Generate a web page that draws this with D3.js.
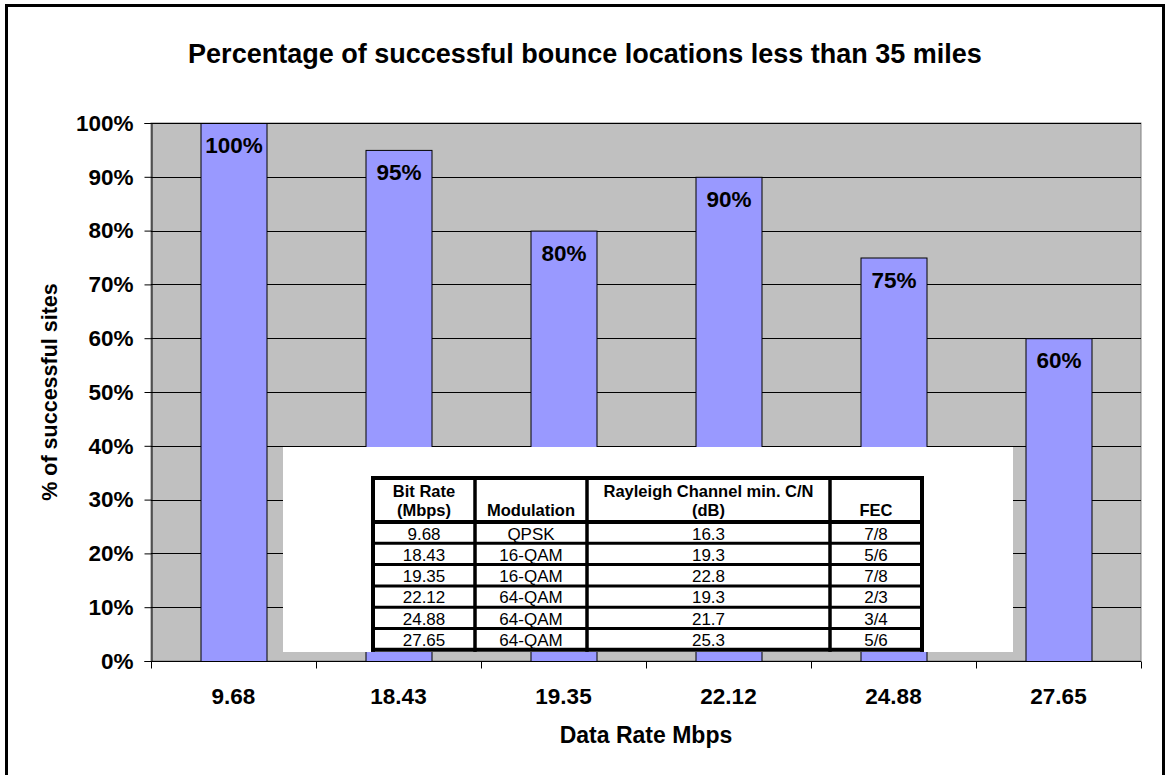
<!DOCTYPE html>
<html>
<head>
<meta charset="utf-8">
<script src="https://cdn.jsdelivr.net/npm/d3@7"></script>
<style>
  html, body { margin: 0; padding: 0; background: #fff; }
  svg { display: block; font-family: Arial, "Liberation Sans", sans-serif; }
</style>
</head>
<body>
<svg id="chart" width="1165" height="775"></svg>
<script>
// Data rates (Mbps) on the category axis and share of successful sites
const rates = ["9.68", "18.43", "19.35", "22.12", "24.88", "27.65"];
const successPct = [100, 95, 80, 90, 75, 60];
const yTicks = [0, 10, 20, 30, 40, 50, 60, 70, 80, 90, 100];

// Inset table of link parameters
const tableHeader = [["Bit Rate", "(Mbps)"], ["", "Modulation"], ["Rayleigh Channel min. C/N", "(dB)"], ["", "FEC"]];
const bitRates = ["9.68", "18.43", "19.35", "22.12", "24.88", "27.65"];
const modulations = ["QPSK", "16-QAM", "16-QAM", "64-QAM", "64-QAM", "64-QAM"];
const minCN = ["16.3", "19.3", "22.8", "19.3", "21.7", "25.3"];
const fec = ["7/8", "5/6", "7/8", "2/3", "3/4", "5/6"];

const svg = d3.select("#chart");

// Outer chart frame
svg.append("rect")
  .attr("x", 6.5).attr("y", 5.5).attr("width", 1157).attr("height", 790)
  .attr("fill", "#fff").attr("stroke", "#000").attr("stroke-width", 3);

const plot = { left: 151, top: 123, right: 1141, bottom: 661 };

const x = d3.scaleBand().domain(rates).range([plot.left, plot.right]).paddingInner(0.6).paddingOuter(0.3);
const xOuter = d3.scaleBand().domain(rates).range([plot.left, plot.right]);
const y = d3.scaleLinear().domain([0, 100]).range([plot.bottom, plot.top]);

// Plot background
svg.append("rect")
  .attr("x", plot.left).attr("y", plot.top)
  .attr("width", plot.right - plot.left).attr("height", plot.bottom - plot.top)
  .attr("fill", "#c0c0c0").attr("stroke", "#808080").attr("stroke-width", 1);

// Horizontal gridlines
svg.append("g").selectAll("line").data(yTicks.filter(d => d > 0)).join("line")
  .attr("x1", plot.left).attr("x2", plot.right)
  .attr("y1", d => Math.round(y(d)) + 0.5).attr("y2", d => Math.round(y(d)) + 0.5)
  .attr("stroke", "#000").attr("stroke-width", 1);

// Bars
svg.append("g").selectAll("rect").data(rates).join("rect")
  .attr("x", d => x(d) + 0.5)
  .attr("y", (d, i) => y(successPct[i]) + 0.5)
  .attr("width", x.bandwidth())
  .attr("height", (d, i) => y(0) - y(successPct[i]))
  .attr("fill", "#9999ff").attr("stroke", "#000").attr("stroke-width", 1);

// Bar value labels
svg.append("g").selectAll("text").data(rates).join("text")
  .attr("x", d => x(d) + x.bandwidth() / 2 + 0.5)
  .attr("y", (d, i) => y(successPct[i]) + 30)
  .attr("text-anchor", "middle")
  .attr("font-size", 22.5).attr("font-weight", "bold")
  .text((d, i) => successPct[i] + "%");

// Y axis
const yAxis = svg.append("g")
  .attr("transform", `translate(${plot.left + 0.5},0)`)
  .call(d3.axisLeft(y).tickValues(yTicks).tickSize(7).tickFormat(d => d + "%"));
yAxis.select(".domain").attr("stroke", "#000");
yAxis.selectAll(".tick line").attr("stroke", "#000");
yAxis.selectAll(".tick text")
  .attr("x", -18).attr("font-size", 22.5).attr("font-weight", "bold")
  .attr("font-family", "Arial, 'Liberation Sans', sans-serif").attr("fill", "#000");

// X axis with ticks on category boundaries
const xAxisG = svg.append("g").attr("transform", `translate(0,${plot.bottom + 0.5})`);
xAxisG.append("line")
  .attr("x1", plot.left).attr("x2", plot.right).attr("y1", 0).attr("y2", 0)
  .attr("stroke", "#000");
const boundaries = rates.map(d => xOuter(d)).concat([plot.right]);
xAxisG.selectAll("line.tk").data(boundaries).join("line").attr("class", "tk")
  .attr("x1", d => Math.round(d) + 0.5).attr("x2", d => Math.round(d) + 0.5)
  .attr("y1", 0).attr("y2", 7).attr("stroke", "#000");
xAxisG.selectAll("text").data(rates).join("text")
  .attr("x", d => xOuter(d) + xOuter.bandwidth() / 2)
  .attr("y", 42)
  .attr("text-anchor", "middle")
  .attr("font-size", 22.5).attr("font-weight", "bold")
  .text(d => d);

// Titles
svg.append("text")
  .attr("x", 585).attr("y", 63).attr("text-anchor", "middle")
  .attr("font-size", 27).attr("font-weight", "bold")
  .text("Percentage of successful bounce locations less than 35 miles");

svg.append("text")
  .attr("x", 646).attr("y", 743).attr("text-anchor", "middle")
  .attr("font-size", 23).attr("font-weight", "bold")
  .text("Data Rate Mbps");

svg.append("text")
  .attr("transform", `translate(57,${(plot.top + plot.bottom) / 2}) rotate(-90)`)
  .attr("text-anchor", "middle")
  .attr("font-size", 21.5).attr("font-weight", "bold")
  .text("% of successful sites");

// Inset table panel
svg.append("rect")
  .attr("x", 283).attr("y", 447).attr("width", 730).attr("height", 205)
  .attr("fill", "#fff");

const colEdges = [373, 475, 587, 830, 922];
const headerTop = 478, headerBottom = 522, rowH = 21.3;
const nRows = bitRates.length;
const tableBottom = headerBottom + rowH * nRows;
const tbl = svg.append("g");

// Grid lines of the table
tbl.selectAll("line.v").data(colEdges).join("line").attr("class", "v")
  .attr("x1", d => d).attr("x2", d => d)
  .attr("y1", headerTop - 2).attr("y2", tableBottom + 2)
  .attr("stroke", "#000").attr("stroke-width", (d, i) => (i === 0 || i === colEdges.length - 1) ? 4 : 3.5);
const rowEdges = [headerTop, headerBottom].concat(d3.range(1, nRows + 1).map(i => headerBottom + rowH * i));
tbl.selectAll("line.h").data(rowEdges).join("line").attr("class", "h")
  .attr("x1", colEdges[0] - 2).attr("x2", colEdges[colEdges.length - 1] + 2)
  .attr("y1", d => d).attr("y2", d => d)
  .attr("stroke", "#000").attr("stroke-width", (d, i) => (i <= 1 || i === rowEdges.length - 1) ? 4 : 3);

const colCenter = i => (colEdges[i] + colEdges[i + 1]) / 2;

// Header text
tableHeader.forEach((lines, i) => {
  lines.forEach((t, j) => {
    if (!t) return;
    tbl.append("text")
      .attr("x", colCenter(i)).attr("y", headerTop + 19 + j * 19)
      .attr("text-anchor", "middle")
      .attr("font-size", 16.5).attr("font-weight", "bold")
      .text(t);
  });
});

// Body text
const columns = [bitRates, modulations, minCN, fec];
columns.forEach((col, i) => {
  tbl.selectAll(null).data(col).join("text")
    .attr("x", colCenter(i))
    .attr("y", (d, r) => headerBottom + rowH * r + 17.5)
    .attr("text-anchor", "middle")
    .attr("font-size", 17)
    .text(d => d);
});
</script>
</body>
</html>
